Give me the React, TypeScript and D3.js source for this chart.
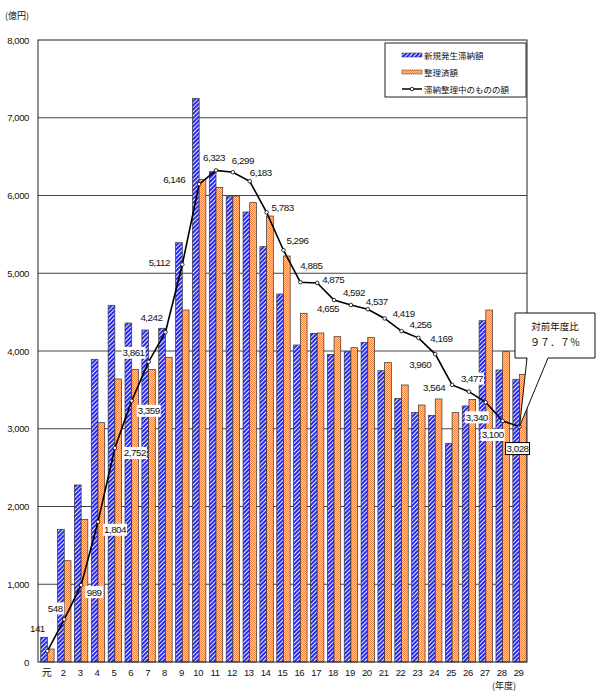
import React from 'react';
import * as d3 from 'd3';

const categories = ['元','2','3','4','5','6','7','8','9','10','11','12','13','14','15','16','17','18','19','20','21','22','23','24','25','26','27','28','29'];
const newArrears = [318,1707,2277,3893,4588,4360,4270,4292,5393,7250,6306,5985,5788,5342,4733,4077,4227,3957,3991,4112,3747,3391,3211,3173,2813,3293,4390,3756,3636];
const settled = [167,1303,1835,3078,3640,3764,3764,3919,4527,6208,6105,5993,5908,5736,5222,4485,4232,4184,4043,4176,3850,3563,3305,3383,3207,3378,4527,3991,3700];
const outstanding = [141,548,989,1804,2752,3359,3861,4242,5112,6146,6323,6299,6183,5783,5296,4885,4875,4655,4592,4537,4419,4256,4169,3960,3564,3477,3340,3100,3028];
const yTicks = [0,1000,2000,3000,4000,5000,6000,7000,8000];
const seriesNames = ['新規発生滞納額','整理済額','滞納整理中のものの額'];
const calloutLines = ['対前年度比','９７．７％'];

// label layout (offset from point, background style)
const labelDx = [-10,-9,13,17,20,17,-15,-14,-23,-25,-2,10,11,16,14,11,16,-6,3,9,19,19,23,-15,-18,3,-9,-10,-2];
const labelDy = [-22,-11,7,8,5,10,-9,-15,-2,-5,-13,-12,-9,-5,-10,-17,-3,9,-12,-8,-5,-6,1,10,3,-13,15,14,22];
const labelBg = ['n','w','w','w','w','w','w','n','n','n','n','n','n','n','n','n','n','n','n','n','n','n','n','n','n','w','w','w','b'];

const fmt = d3.format(',');

export default function App() {
  const left = 38, right = 527, top = 40, bottom = 662;
  const x = d3.scaleBand<string>().domain(categories).range([left, right]).padding(0);
  const bw = x.bandwidth();
  const sub = d3.scaleBand<string>().domain(['a','b']).range([bw * 0.16, bw * 0.955]).padding(0);
  const y = d3.scaleLinear().domain([0, 8000]).range([bottom, top]);
  const px = (i: number) => (x(categories[i]) as number) + (sub('b') as number);
  const line = d3.line<number>().x((_, i) => px(i)).y(d => y(d));
  const font = 'Arial, "Liberation Sans", sans-serif';
  const jfont = '"Noto Sans CJK JP", sans-serif';

  return (
    <svg width={600} height={700} style={{ position: 'absolute', left: 0, top: 0, background: '#fff' }} fontFamily={font}>
      <defs>
        <pattern id="pBlue" width={3} height={3} patternUnits="userSpaceOnUse" patternTransform="rotate(-45)">
          <rect width={3} height={3} fill="#ffffff" />
          <rect width={3} height={2.1} fill="#2a2aee" />
        </pattern>
        <pattern id="pOrange" width={2} height={2} patternUnits="userSpaceOnUse">
          <rect width={2} height={2} fill="#ffcfa6" />
          <rect width={1} height={1} fill="#f5843e" />
          <rect x={1} y={1} width={1} height={1} fill="#f5843e" />
        </pattern>
      </defs>
      <rect x={left} y={top} width={right - left} height={bottom - top} fill="#fff" />
      {yTicks.map(t => (
        <g key={t}>
          {t > 0 && t < 8000 && <line x1={left} x2={right} y1={y(t)} y2={y(t)} stroke="#444" strokeWidth={1} />}
          <text x={29} y={y(t) + 3.5} fontSize={9.5} textAnchor="end" letterSpacing={-0.4} fill="#111">{fmt(t)}</text>
        </g>
      ))}
      {categories.map((c, i) => (
        <g key={c}>
          <rect x={(x(c) as number) + (sub('a') as number)} y={y(newArrears[i])} width={sub.bandwidth()} height={bottom - y(newArrears[i])} fill="url(#pBlue)" stroke="#333" strokeWidth={0.7} />
          <rect x={(x(c) as number) + (sub('b') as number)} y={y(settled[i])} width={sub.bandwidth()} height={bottom - y(settled[i])} fill="url(#pOrange)" stroke="#333" strokeWidth={0.7} />
          <text x={(x(c) as number) + bw / 2} y={676} fontSize={c === '元' ? 10 : 9.5} textAnchor="middle" letterSpacing={-0.4} fill="#111" fontFamily={c === '元' ? jfont : font}>{c}</text>
        </g>
      ))}
      <rect x={left} y={top} width={right - left} height={bottom - top} fill="none" stroke="#222" strokeWidth={1} />
      <path d={line(outstanding) || ''} fill="none" stroke="#000" strokeWidth={1.6} />
      {outstanding.map((v, i) => (
        <circle key={i} cx={px(i)} cy={y(v)} r={1.8} fill="#fff" stroke="#000" strokeWidth={0.8} />
      ))}
      {outstanding.map((v, i) => {
        const cx = px(i) + labelDx[i];
        const cy = y(v) + labelDy[i];
        const w = v < 1000 ? 18 : 24, h = 12;
        return (
          <g key={'l' + i}>
            {labelBg[i] !== 'n' && (
              <rect x={cx - w / 2} y={cy - h / 2} width={w} height={h} fill="#fff" stroke={labelBg[i] === 'b' ? '#000' : 'none'} strokeWidth={1} />
            )}
            <text x={cx} y={cy + 3.4} fontSize={9.8} textAnchor="middle" letterSpacing={-0.5} fill="#111">{fmt(v)}</text>
          </g>
        );
      })}
      <text x={5} y={19} fontSize={9} fontFamily={jfont} fill="#111">(億円)</text>
      <text x={492} y={689} fontSize={9} fontFamily={jfont} fill="#111">(年度)</text>
      {/* legend */}
      <rect x={385} y={43} width={141} height={54} fill="#fff" stroke="#222" strokeWidth={1} />
      <rect x={402} y={53} width={20} height={4} fill="url(#pBlue)" stroke="#333" strokeWidth={0.5} />
      <rect x={402} y={70} width={20} height={4} fill="url(#pOrange)" stroke="#333" strokeWidth={0.5} />
      <line x1={402} x2={422} y1={89} y2={89} stroke="#000" strokeWidth={1.5} />
      <circle cx={412} cy={89} r={1.8} fill="#fff" stroke="#000" strokeWidth={0.8} />
      {seriesNames.map((s, i) => (
        <text key={s} x={424} y={58.5 + i * 17} fontSize={8.5} fontFamily={jfont} fill="#111">{s}</text>
      ))}
      {/* callout */}
      <path d={`M515,313 H595 V358 H548 L${px(28)},${y(outstanding[28])} L527,358 H515 Z`} fill="#fff" stroke="#111" strokeWidth={1} />
      <text x={555} y={330} fontSize={9.5} textAnchor="middle" fontFamily={jfont} fill="#111">{calloutLines[0]}</text>
      <text x={555} y={346} fontSize={10} textAnchor="middle" fontFamily={jfont} fill="#111">{calloutLines[1]}</text>
    </svg>
  );
}
